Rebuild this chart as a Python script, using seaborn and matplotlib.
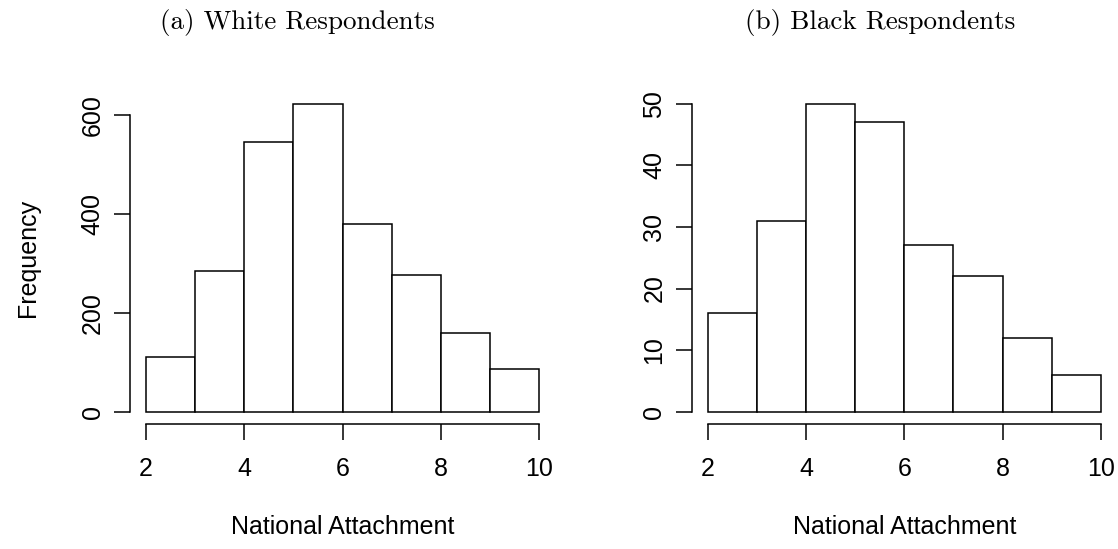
import numpy as np
import pandas as pd
import seaborn as sns
import matplotlib
matplotlib.use("Agg")
import matplotlib.pyplot as plt

# Histogram bins and counts
bin_edges = [2, 3, 4, 5, 6, 7, 8, 9, 10]
white_counts = [110, 284, 546, 623, 379, 276, 159, 87]
black_counts = [16, 31, 50, 47, 27, 22, 12, 6]
white_yticks = [0, 200, 400, 600]
black_yticks = [0, 10, 20, 30, 40, 50]
xticks = [2, 4, 6, 8, 10]
titles = ["(a) White Respondents", "(b) Black Respondents"]

centers = [(a + b) / 2 for a, b in zip(bin_edges[:-1], bin_edges[1:])]
df_white = pd.DataFrame({"attach": centers, "n": white_counts})
df_black = pd.DataFrame({"attach": centers, "n": black_counts})

sns.set_style("ticks")
plt.rcParams["font.family"] = ["Liberation Sans", "DejaVu Sans"]
plt.rcParams["font.size"] = 18
plt.rcParams["text.color"] = "black"
plt.rcParams["axes.labelcolor"] = "black"

fig = plt.figure(figsize=(11.18, 5.49), dpi=100)
ax1 = fig.add_axes([0.1167, 0.2277, 0.3794, 0.6056])
ax2 = fig.add_axes([0.619, 0.2277, 0.3797, 0.6056])

panels = [(ax1, df_white, white_yticks), (ax2, df_black, black_yticks)]
for ax, d, yt in panels:
    sns.histplot(data=d, x="attach", weights="n", bins=bin_edges, ax=ax,
                 color="white", edgecolor="black", linewidth=1.1, alpha=1)
    m = d["n"].max()
    ax.set_ylim(-0.04 * m, 1.04 * m)
    span = bin_edges[-1] - bin_edges[0]
    ax.set_xlim(bin_edges[0] - 0.04 * span, bin_edges[-1] + 0.04 * span)
    ax.set_xticks(xticks)
    ax.set_yticks(yt)
    ax.set_yticklabels([str(v) for v in yt], rotation=90, va="center")
    ax.spines["top"].set_visible(False)
    ax.spines["right"].set_visible(False)
    ax.spines["left"].set_bounds(yt[0], yt[-1])
    ax.spines["bottom"].set_bounds(xticks[0], xticks[-1])
    for s in ["left", "bottom"]:
        ax.spines[s].set_linewidth(1.1)
        ax.spines[s].set_color("black")
    ax.tick_params(axis="both", length=11.5, width=1.1,
                   labelsize=18, colors="black")
    ax.tick_params(axis="x", pad=12)
    ax.tick_params(axis="y", pad=7)
    ax.set_xlabel("National Attachment", fontsize=18, labelpad=25,
                  color="black")
    ax.set_ylabel("")

ax1.set_ylabel("Frequency", fontsize=18, labelpad=29, color="black")

fig.text(297 / 1118, 1 - 22 / 549, titles[0], ha="center", va="center",
         fontfamily="cmr10", fontsize=19.5, color="black")
fig.text(880 / 1118, 1 - 22 / 549, titles[1], ha="center", va="center",
         fontfamily="cmr10", fontsize=19.5, color="black")

fig.savefig("out.png", dpi=100)
